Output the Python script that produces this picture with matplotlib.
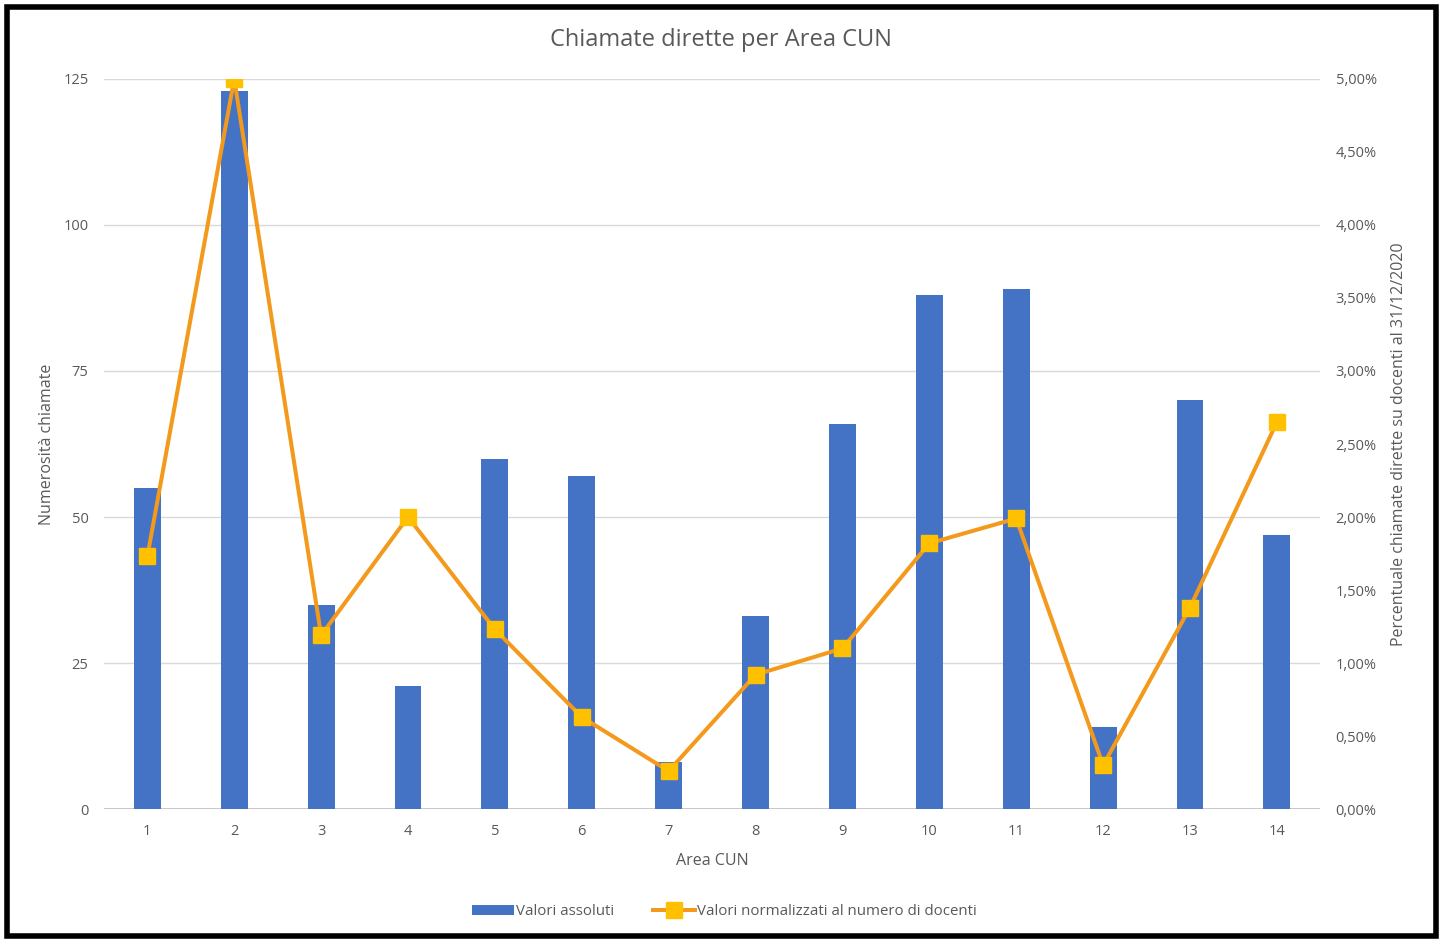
import matplotlib.pyplot as plt
import matplotlib.patches as mpatches
from matplotlib.ticker import FuncFormatter
import numpy as np

# dati
aree = ["1", "2", "3", "4", "5", "6", "7", "8", "9", "10", "11", "12", "13", "14"]
valori_assoluti = [55, 123, 35, 21, 60, 57, 8, 33, 66, 88, 89, 14, 70, 47]
valori_normalizzati = [1.73, 5.00, 1.19, 2.00, 1.23, 0.63, 0.26, 0.92, 1.10, 1.82, 1.99, 0.30, 1.38, 2.65]

plt.rcParams['font.family'] = ['Open Sans', 'DejaVu Sans']
grigio = '#595959'
blu = '#4472C4'
arancio = '#F39A1C'
giallo = '#FFC000'

fig = plt.figure(figsize=(14.43, 9.39), dpi=100)
ax = fig.add_axes([0.072, 0.1384, 0.843, 0.7775])
ax2 = ax.twinx()

x = np.arange(len(aree))
barre = ax.bar(x, valori_assoluti, width=0.31, color=blu, zorder=2, label='Valori assoluti')
linea, = ax2.plot(x, valori_normalizzati, color=arancio, linewidth=2.9, marker='s', markersize=11,
                  markerfacecolor=giallo, markeredgecolor=giallo, zorder=3,
                  label='Valori normalizzati al numero di docenti')

ax.set_xlim(-0.5, len(aree) - 0.5)
ax.set_ylim(0, 125)
ax.set_yticks([0, 25, 50, 75, 100, 125])
ax2.set_ylim(0, 5)
ax2.set_yticks(np.arange(0, 5.01, 0.5))
ax2.yaxis.set_major_formatter(FuncFormatter(lambda v, p: f"{v:.2f}%".replace('.', ',')))
ax.set_xticks(x)
ax.set_xticklabels(aree)

ax.grid(axis='y', color='#D9D9D9', linewidth=1, zorder=0)
ax.set_axisbelow(True)
for a in (ax, ax2):
    for s in ('top', 'left', 'right', 'bottom'):
        a.spines[s].set_visible(False)
    a.tick_params(length=0, colors=grigio, labelsize=10.5)
ax.axhline(0, color='#BFBFBF', linewidth=1.2, zorder=1)
ax.tick_params(axis='y', pad=11)
ax.tick_params(axis='x', pad=11)
ax2.tick_params(axis='y', pad=11)

ax.set_title('Chiamate dirette per Area CUN', fontsize=17, color=grigio, pad=24, x=0.507)
ax.set_xlabel('Area CUN', fontsize=11.5, color=grigio, labelpad=10)
ax.set_ylabel('Numerosità chiamate', fontsize=11.5, color=grigio, labelpad=6)
ax2.set_ylabel('Percentuale chiamate dirette su docenti al 31/12/2020', fontsize=11.5, color=grigio, labelpad=10)

fig.legend(handles=[barre, linea], loc='center', bbox_to_anchor=(0.502, 0.029), ncol=2, frameon=False,
           fontsize=10.8, labelcolor=grigio, handlelength=2.8, handletextpad=0.1, columnspacing=2.6)

# cornice nera
fig.patches.append(mpatches.Rectangle((0.005, 0.003), 0.99, 0.99, transform=fig.transFigure,
                                      fill=False, edgecolor='black', linewidth=4, zorder=10))

plt.savefig('out.png', dpi=100)
